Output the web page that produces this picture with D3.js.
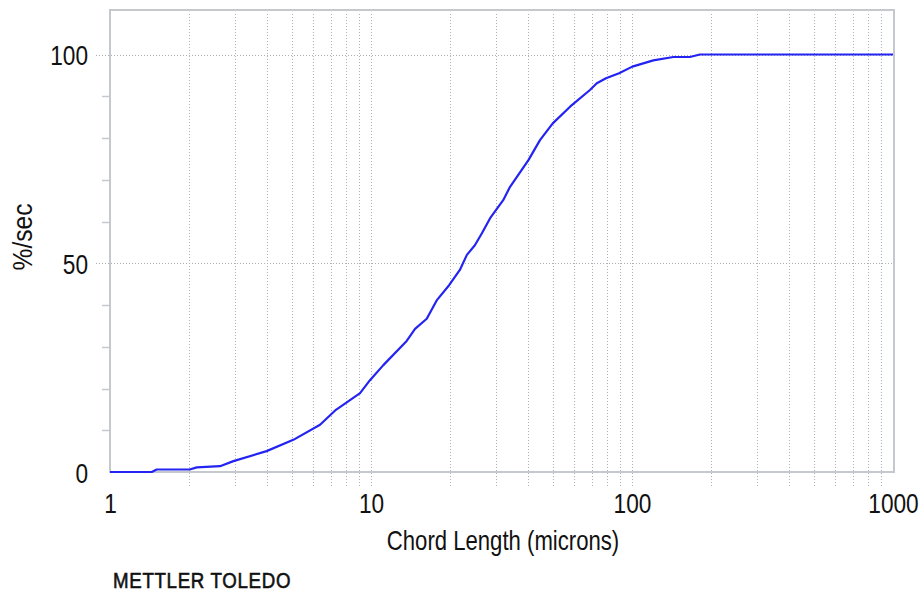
<!DOCTYPE html>
<html>
<head>
<meta charset="utf-8">
<script src="https://cdn.jsdelivr.net/npm/d3@7"></script>
<style>
  html, body { margin: 0; padding: 0; background: #ffffff; }
  svg { display: block; }
  text { font-family: "Liberation Sans", Arial, sans-serif; fill: #111; }
</style>
</head>
<body>
<svg id="chart" width="921" height="591"></svg>
<script>
// Cumulative chord length distribution (FBRM)
const chordLength = [1, 1.445, 1.51, 2.02, 2.15, 2.64, 2.97, 3.98, 5.04, 6.38, 7.34, 9.08, 9.91,
  11.15, 13.7, 14.75, 16.35, 17.85, 19.95, 21.9, 23.3, 25.0, 26.6, 28.6, 32.1, 34.1, 40.1,
  44.4, 49.7, 57.9, 69.0, 73.3, 79.5, 89.2, 100.3, 120.7, 144, 166.7, 182, 1000];
const cumulativePct = [0, 0, 0.6, 0.6, 1.1, 1.4, 2.6, 5.0, 7.7, 11.3, 14.9, 18.9, 22.0,
  25.6, 31.4, 34.3, 36.7, 41.1, 44.8, 48.4, 52.0, 54.3, 57.2, 60.8, 65.1, 68.3, 74.7,
  79.5, 83.5, 87.5, 91.5, 93.1, 94.3, 95.5, 97.1, 98.6, 99.4, 99.4, 100, 100];

const xTicks = [1, 10, 100, 1000];
const yTicks = [0, 50, 100];
const yMinorTicks = [10, 20, 30, 40, 60, 70, 80, 90];
const xLabel = "Chord Length (microns)";
const yLabel = "%/sec";
const brand = "METTLER TOLEDO";

const svg = d3.select("#chart");
const plotLeft = 110, plotRight = 893, plotTop = 10, plotBottom = 472;

const x = d3.scaleLog().domain([1, 1000]).range([plotLeft, plotRight]);
const y = d3.scaleLinear().domain([0, 100]).range([plotBottom, 54.5]);

const gridColor = "#abb1b7";
const frameColor = "#c5c9cd";

// vertical log grid (2..9 of each decade, plus decade lines)
const xGrid = [];
[1, 10, 100].forEach(d => { for (let k = 2; k <= 10; k++) if (d * k < 1000) xGrid.push(d * k); });
svg.append("g").selectAll("line").data(xGrid).join("line")
  .attr("x1", d => Math.round(x(d)) + 0.5).attr("x2", d => Math.round(x(d)) + 0.5)
  .attr("y1", plotTop + 4).attr("y2", 487)
  .attr("stroke", gridColor).attr("stroke-width", 1).attr("stroke-dasharray", "1,2");

// horizontal grid at labelled values
svg.append("g").selectAll("line").data(yTicks.filter(d => d > 0)).join("line")
  .attr("x1", 96).attr("x2", plotRight + 1)
  .attr("y1", d => Math.round(y(d)) + 0.5).attr("y2", d => Math.round(y(d)) + 0.5)
  .attr("stroke", gridColor).attr("stroke-width", 1).attr("stroke-dasharray", "1,2");

// minor y ticks
svg.append("g").selectAll("line").data(yMinorTicks).join("line")
  .attr("x1", 102).attr("x2", plotLeft)
  .attr("y1", d => Math.round(y(d)) + 0.5).attr("y2", d => Math.round(y(d)) + 0.5)
  .attr("stroke", frameColor).attr("stroke-width", 1.5);

// plot frame
svg.append("rect")
  .attr("x", plotLeft).attr("y", plotTop).attr("width", 894 - plotLeft).attr("height", plotBottom - plotTop)
  .attr("fill", "none").attr("stroke", frameColor).attr("stroke-width", 2);

// axes (labels only); glyphs are condensed horizontally
const fs = 27;
const squeeze = 0.84;
const gx = svg.append("g").attr("transform", `translate(0,${plotBottom})`)
  .call(d3.axisBottom(x).tickValues(xTicks).tickFormat(d3.format("d")).tickSize(0).tickPadding(0));
gx.select(".domain").remove();
gx.selectAll("text").attr("font-size", fs).attr("dy", null).attr("y", 41)
  .attr("transform", `scale(${squeeze},1)`)
  .attr("font-family", "Liberation Sans, Arial, sans-serif").attr("fill", "#111");

const gy = svg.append("g").attr("transform", `translate(88,0)`)
  .call(d3.axisLeft(y).tickValues(yTicks).tickFormat(d3.format("d")).tickSize(0).tickPadding(0));
gy.select(".domain").remove();
gy.selectAll("text").attr("font-size", fs).attr("dy", null).attr("y", 10).attr("x", 0)
  .attr("transform", `scale(${squeeze},1)`)
  .attr("font-family", "Liberation Sans, Arial, sans-serif").attr("fill", "#111");

// axis titles
svg.append("text").attr("transform", "translate(503,550) scale(0.82,1)").attr("text-anchor", "middle")
  .attr("font-size", fs)
  .text(xLabel);

svg.append("text").attr("transform", "translate(32,237) rotate(-90) scale(0.91,1)").attr("text-anchor", "middle")
  .attr("font-size", fs)
  .text(yLabel);

// brand mark
svg.append("text").attr("transform", "translate(113,588) scale(0.85,1)")
  .attr("font-size", 22).attr("letter-spacing", 0.8)
  .attr("stroke", "#111").attr("stroke-width", 0.6)
  .text(brand);

// cumulative curve
const pts = chordLength.map((c, i) => [c, cumulativePct[i]]);
svg.append("path").datum(pts)
  .attr("fill", "none").attr("stroke", "#2424f2").attr("stroke-width", 2.2)
  .attr("stroke-linejoin", "round")
  .attr("d", d3.line().x(d => x(d[0])).y(d => y(d[1])));
</script>
</body>
</html>
